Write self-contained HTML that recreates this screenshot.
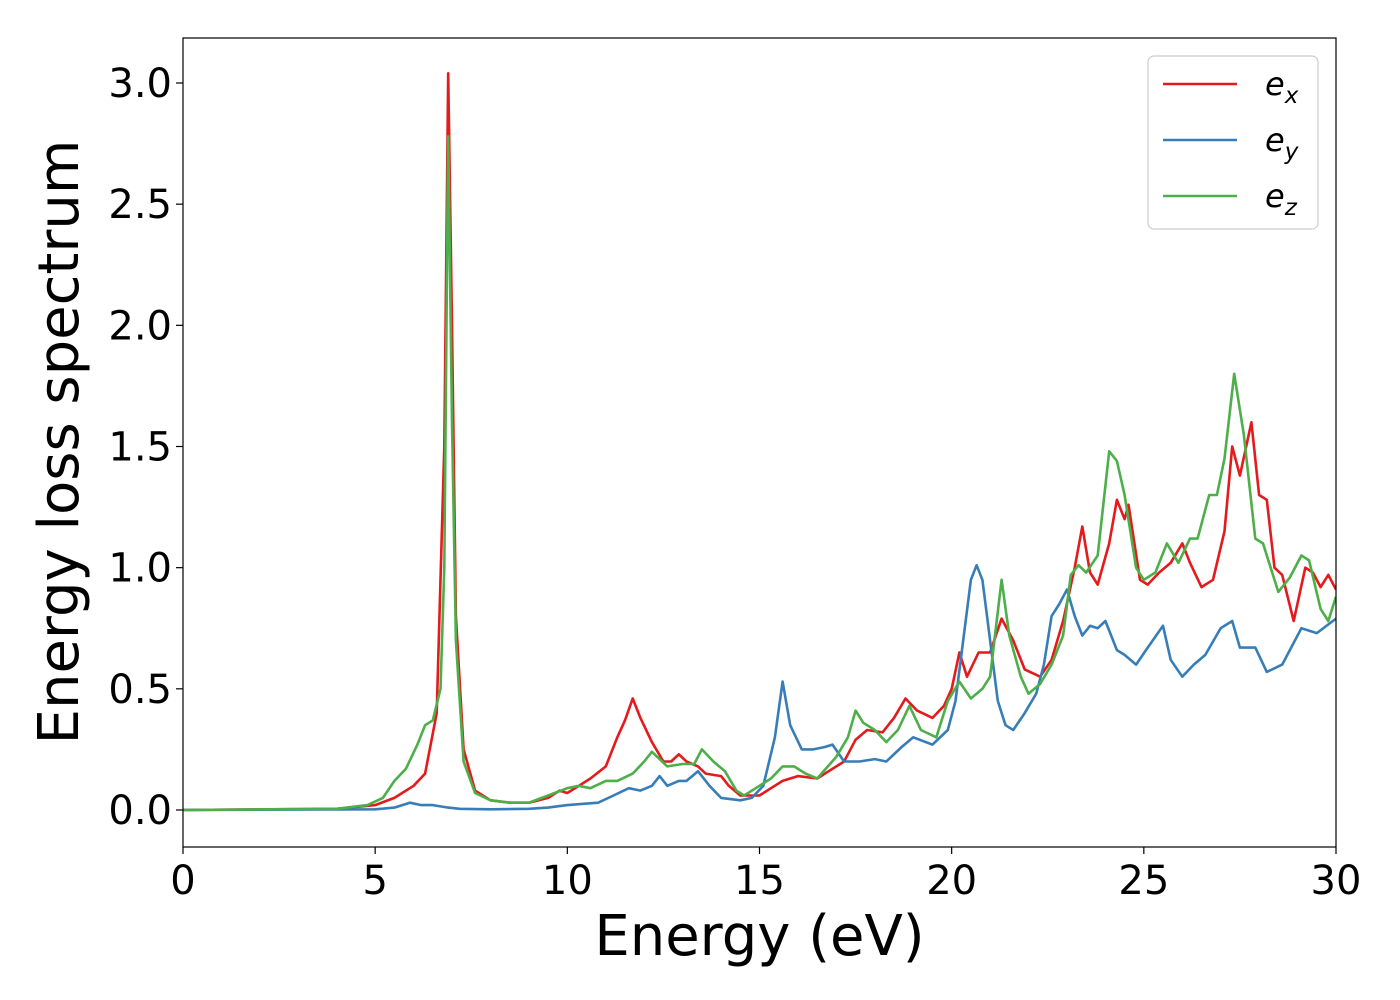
<!DOCTYPE html>
<html><head><meta charset="utf-8"><style>
body{margin:0;background:#fff}
svg{display:block;font-family:"DejaVu Sans","Liberation Sans",sans-serif}
</style></head><body>
<svg id="chart" width="1400" height="1000">
<rect x="0" y="0" width="1400" height="1000" fill="#fff"/>
<g id="plot"></g>
</svg>
<script>
const xTicks=[0,5,10,15,20,25,30];
const yTicks=[0,0.5,1.0,1.5,2.0,2.5,3.0];
const yTickLabels=["0.0","0.5","1.0","1.5","2.0","2.5","3.0"];
const seriesNames=["e_x","e_y","e_z"];
const exE=[0,4,5,5.5,6,6.3,6.6,6.8,6.9,7.0,7.1,7.3,7.6,8,8.5,9,9.5,9.8,10,10.3,10.6,11,11.3,11.5,11.7,11.9,12.2,12.5,12.7,12.9,13.1,13.4,13.6,14,14.2,14.5,15,15.3,15.6,16,16.5,16.8,17.2,17.5,17.8,18.2,18.5,18.8,19.1,19.5,19.8,20.0,20.2,20.4,20.7,21,21.3,21.6,21.9,22.3,22.6,22.9,23.2,23.4,23.6,23.8,24.1,24.3,24.5,24.6,24.9,25.1,25.4,25.7,26,26.2,26.5,26.8,27.1,27.3,27.5,27.8,28.0,28.2,28.4,28.6,28.9,29.2,29.4,29.6,29.8,30];
const exV=[0,0.005,0.02,0.05,0.1,0.15,0.4,1.5,3.04,2.0,0.8,0.25,0.08,0.04,0.03,0.03,0.05,0.08,0.07,0.1,0.13,0.18,0.3,0.37,0.46,0.38,0.28,0.2,0.2,0.23,0.2,0.18,0.15,0.14,0.1,0.06,0.06,0.09,0.12,0.14,0.13,0.16,0.2,0.29,0.33,0.32,0.38,0.46,0.41,0.38,0.43,0.5,0.65,0.55,0.65,0.65,0.79,0.7,0.58,0.55,0.62,0.78,1.0,1.17,0.98,0.93,1.1,1.28,1.2,1.26,0.95,0.93,0.98,1.02,1.1,1.02,0.92,0.95,1.15,1.5,1.38,1.6,1.3,1.28,1.0,0.97,0.78,1.0,0.98,0.92,0.97,0.91];
const eyE=[0,5,5.5,5.9,6.2,6.5,6.9,7.2,8,9,9.5,10,10.8,11.2,11.6,11.9,12.2,12.4,12.6,12.9,13.1,13.4,13.7,14,14.5,14.8,15.1,15.4,15.6,15.8,16.1,16.4,16.7,16.9,17.2,17.6,18,18.3,18.7,19,19.5,19.9,20.1,20.3,20.5,20.65,20.8,21.0,21.2,21.4,21.6,21.9,22.2,22.4,22.6,22.8,23.0,23.2,23.4,23.6,23.8,24,24.3,24.5,24.8,25.1,25.5,25.7,26,26.3,26.6,27,27.3,27.5,27.9,28.2,28.6,29.1,29.5,30];
const eyV=[0,0.003,0.01,0.03,0.02,0.02,0.01,0.005,0.003,0.005,0.01,0.02,0.03,0.06,0.09,0.08,0.1,0.14,0.1,0.12,0.12,0.16,0.1,0.05,0.04,0.05,0.1,0.3,0.53,0.35,0.25,0.25,0.26,0.27,0.2,0.2,0.21,0.2,0.26,0.3,0.27,0.33,0.45,0.7,0.95,1.01,0.95,0.7,0.45,0.35,0.33,0.4,0.48,0.6,0.8,0.85,0.91,0.8,0.72,0.76,0.75,0.78,0.66,0.64,0.6,0.67,0.76,0.62,0.55,0.6,0.64,0.75,0.78,0.67,0.67,0.57,0.6,0.75,0.73,0.79];
const ezE=[0,4,4.8,5.2,5.5,5.8,6.1,6.3,6.5,6.7,6.8,6.9,7.0,7.1,7.3,7.6,8,8.5,9,9.5,10,10.3,10.6,11,11.3,11.7,12.0,12.2,12.6,13,13.3,13.5,13.8,14.1,14.4,14.6,15,15.3,15.6,15.9,16.2,16.5,17,17.3,17.5,17.7,18,18.3,18.6,18.9,19.2,19.6,19.9,20.2,20.5,20.8,21,21.3,21.5,21.8,22,22.3,22.6,22.9,23.1,23.3,23.5,23.8,24.1,24.3,24.5,24.8,25,25.3,25.6,25.9,26.2,26.4,26.7,26.9,27.1,27.35,27.6,27.9,28.1,28.5,28.8,29.1,29.3,29.6,29.8,30];
const ezV=[0,0.005,0.02,0.05,0.12,0.17,0.27,0.35,0.37,0.5,1.0,2.78,1.6,0.7,0.2,0.07,0.04,0.03,0.03,0.06,0.09,0.1,0.09,0.12,0.12,0.15,0.2,0.24,0.18,0.19,0.19,0.25,0.2,0.16,0.08,0.06,0.1,0.13,0.18,0.18,0.15,0.13,0.22,0.3,0.41,0.36,0.33,0.28,0.33,0.43,0.33,0.3,0.45,0.53,0.46,0.5,0.55,0.95,0.72,0.55,0.48,0.52,0.6,0.72,0.97,1.01,0.98,1.05,1.48,1.44,1.3,1.0,0.95,0.98,1.1,1.02,1.12,1.12,1.3,1.3,1.45,1.80,1.55,1.12,1.1,0.9,0.96,1.05,1.03,0.83,0.78,0.88];

const L=183,R=1336,T=38,B=847;
const X0=0,X1=30,Y0=-0.1527,Y1=3.1857;
const sx=v=>L+(v-X0)/(X1-X0)*(R-L);
const sy=v=>B-(v-Y0)/(Y1-Y0)*(B-T);
const NS="http://www.w3.org/2000/svg";
const g=document.getElementById('plot');
function mk(tag,attrs,parent){const e=document.createElementNS(NS,tag);for(const k in attrs)e.setAttribute(k,attrs[k]);(parent||g).appendChild(e);return e;}

const clip=mk('clipPath',{id:'clipR'});
mk('rect',{x:L,y:T,width:R-L,height:B-T},clip);

function path(xs,ys){let d='';for(let i=0;i<xs.length;i++)d+=(i?'L':'M')+sx(xs[i]).toFixed(1)+','+sy(ys[i]).toFixed(1);return d;}
const colors=["#e41a1c","#377eb8","#4daf4a"];
const data=[[exE,exV],[eyE,eyV],[ezE,ezV]];
const lineNames=['series-ex-line','series-ey-line','series-ez-line'];
data.forEach((s,i)=>{
  const p=mk('path',{d:path(s[0],s[1]),fill:'none',stroke:colors[i],'stroke-width':2.6,'stroke-linejoin':'round','clip-path':'url(#clipR)'});
  
  
});

const frame=mk('rect',{x:L,y:T,width:R-L,height:B-T,fill:'none',stroke:'#000','stroke-width':1.2});



xTicks.forEach(v=>{
  const x=sx(v);
  const tk=mk('line',{x1:x,x2:x,y1:B,y2:B+7,stroke:'#000','stroke-width':1.2});
  
  
  const t=mk('text',{x:x,y:B+47,'font-size':40,'text-anchor':'middle',fill:'#000'});
  t.textContent=String(v);
  
  
});
yTicks.forEach((v,i)=>{
  const y=sy(v);
  const tk=mk('line',{x1:L-7,x2:L,y1:y,y2:y,stroke:'#000','stroke-width':1.2});
  
  
  const t=mk('text',{x:L-11,y:y+14,'font-size':40,'text-anchor':'end',fill:'#000'});
  t.textContent=yTickLabels[i];
  
  
});
const xt=mk('text',{x:(L+R)/2,y:955,'font-size':56,'text-anchor':'middle',fill:'#000'});
xt.textContent='Energy (eV)';


const yt=mk('text',{x:0,y:0,'font-size':56,'text-anchor':'middle',fill:'#000',transform:'translate(78,442) rotate(-90)'});
yt.textContent='Energy loss spectrum';



const lg=mk('g',{});


mk('rect',{x:1148,y:56,width:170,height:173,rx:6,fill:'#fff',stroke:'#ccc','stroke-width':1.2},lg);
const subs=['x','y','z'];
const entryNames=['legend-entry-ex','legend-entry-ey','legend-entry-ez'];
subs.forEach((s,i)=>{
  const y=84+i*56;
  const eg=mk('g',{},lg);
  
  
  mk('line',{x1:1163,x2:1237,y1:y,y2:y,stroke:colors[i],'stroke-width':2.6},eg);
  const t=mk('text',{x:1265,y:y+11,'font-size':32,'font-style':'italic',fill:'#000'},eg);
  t.textContent='e';
  const ts=mk('tspan',{'font-size':23,dy:8},t);
  ts.textContent=s;
});
</script>
</body></html>
